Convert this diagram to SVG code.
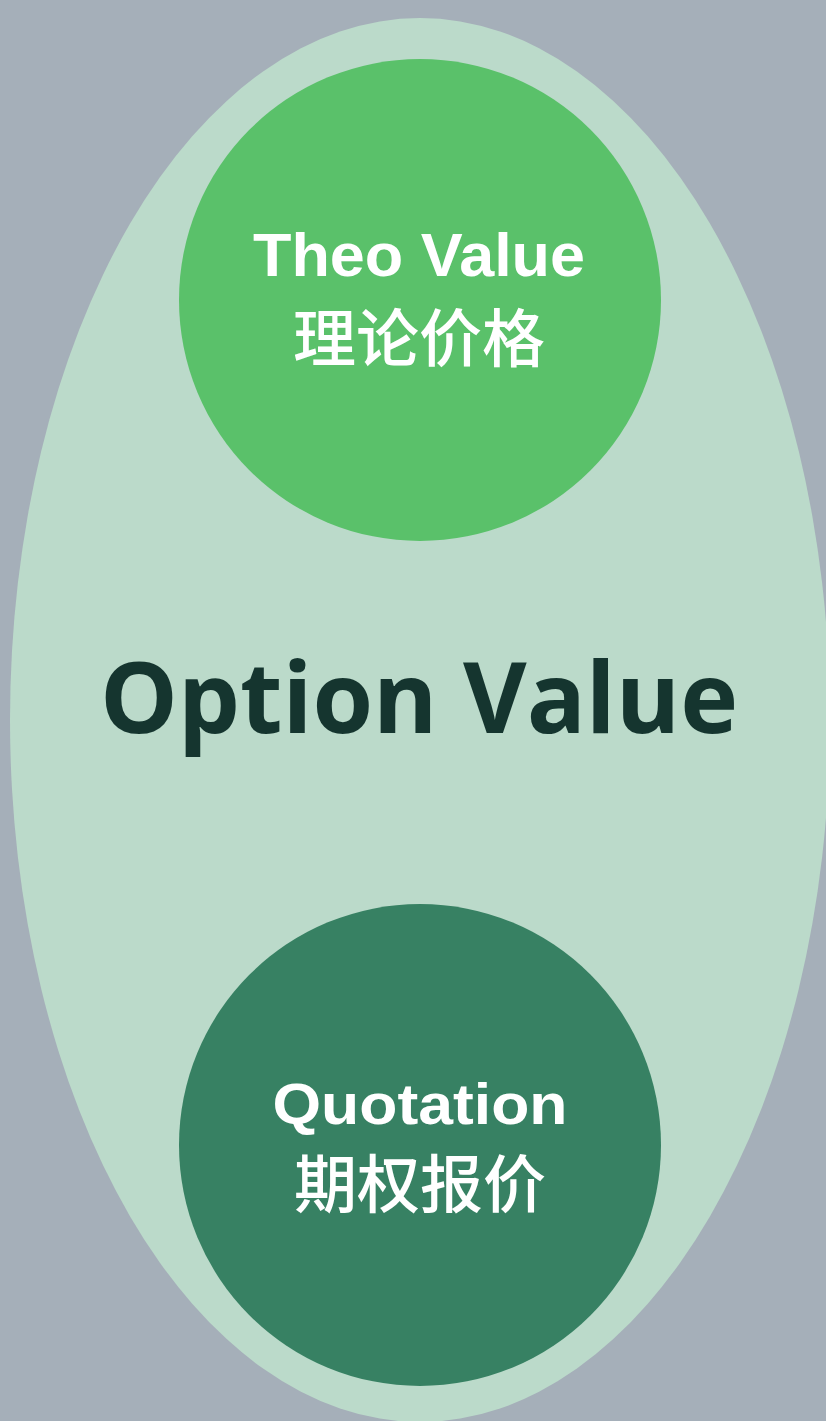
<svg xmlns="http://www.w3.org/2000/svg" width="826" height="1421" viewBox="0 0 826 1421">
<style>
.lbl{font-family:"Liberation Sans",Arial,sans-serif;font-weight:bold;fill:#ffffff;text-anchor:middle}
.cjk{font-family:"Noto Sans CJK SC",sans-serif;font-weight:500;fill:#ffffff;text-anchor:middle}
.main{font-family:"Open Sans",sans-serif;font-weight:bold;fill:#15352F;text-anchor:middle}
</style>
<rect width="826" height="1421" fill="#A5AFB9"/>
<g id="option-value">
<ellipse cx="420" cy="720" rx="410" ry="702" fill="#BBDACA"/>
<text class="main" x="419" y="733" font-size="98">Option Value</text>
</g>
<g id="theo-value">
<circle cx="420" cy="300" r="241" fill="#5AC16A"/>
<text class="lbl" x="419" y="276" font-size="61" textLength="332" lengthAdjust="spacingAndGlyphs">Theo Value</text>
<text class="cjk" x="419" y="361" font-size="63">理论价格</text>
</g>
<g id="quotation">
<circle cx="420" cy="1145" r="241" fill="#378163"/>
<text class="lbl" x="420" y="1124" font-size="58" textLength="295" lengthAdjust="spacingAndGlyphs">Quotation</text>
<text class="cjk" x="420" y="1207" font-size="63">期权报价</text>
</g>
<g id="connectors"/>
</svg>
